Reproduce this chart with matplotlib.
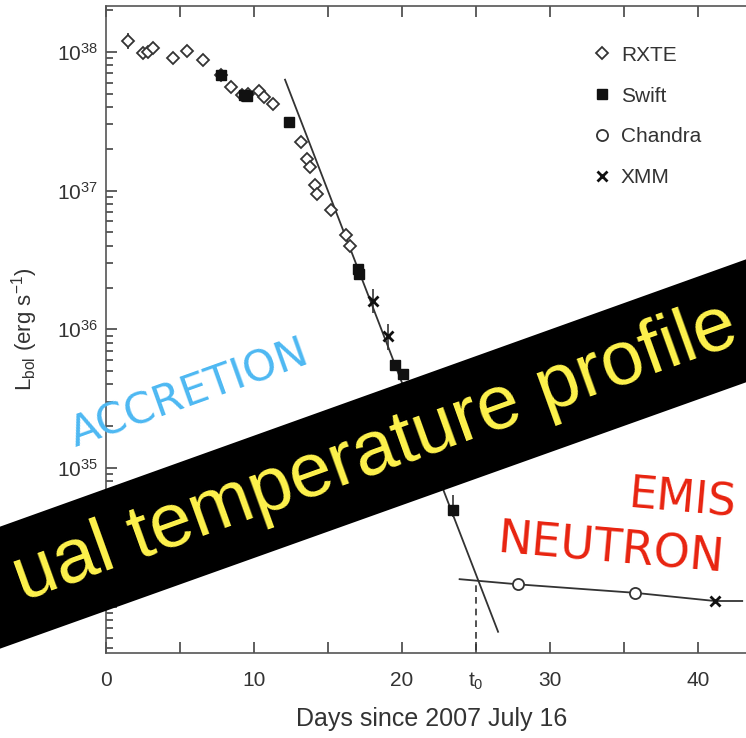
import matplotlib.pyplot as plt
from matplotlib.patches import Polygon
from matplotlib.ticker import FixedLocator, LogLocator, NullFormatter

plt.rcParams['font.family'] = ['Liberation Sans', 'DejaVu Sans']
plt.rcParams['mathtext.fontset'] = 'custom'
plt.rcParams['mathtext.rm'] = 'Liberation Sans'
plt.rcParams['mathtext.it'] = 'Liberation Sans:italic'

# light curve data (days since 2007 July 16, L in erg/s)
rxte_t = [1.47, 2.48, 2.85, 3.15, 4.5, 5.45, 6.53, 7.77, 8.45, 9.2, 9.6, 10.36,
          10.7, 11.26, 13.2, 13.56, 13.78, 14.1, 14.28, 15.18, 16.2, 16.5]
rxte_L = [1.2e38, 9.8e37, 1.0e38, 1.07e38, 9.1e37, 1.02e38, 8.7e37, 6.8e37,
          5.6e37, 4.9e37, 5.0e37, 5.2e37, 4.7e37, 4.2e37, 2.24e37, 1.7e37,
          1.48e37, 1.1e37, 9.5e36, 7.2e36, 4.8e36, 4.0e36]
swift_t = [7.77, 9.35, 9.5, 12.35, 17.05, 17.1, 19.53, 20.09, 23.47]
swift_L = [6.8e37, 4.9e37, 4.8e37, 3.1e37, 2.7e36, 2.5e36, 5.5e35, 4.8e35, 5.0e34]
chandra_t = [27.86, 35.74]
chandra_L = [1.45e34, 1.26e34]
xmm_t = [18.06, 19.08, 41.15]
xmm_L = [1.6e36, 8.9e35, 1.1e34]

# fitted exponential decay and cooling curve
decay_t = [12.1, 26.5]
decay_L = [6.3e37, 6.6e33]
cool_t = [23.9, 27.86, 35.74, 41.15, 43.0]
cool_L = [1.58e34, 1.45e34, 1.26e34, 1.1e34, 1.1e34]
t0 = 25.0
L_t0 = 1.56e34

xticks = [0, 10, 20, 25, 30, 40]
xticklabels = ['0', '10', '20', r'$\mathrm{t}_0$', '30', '40']

W, H = 746, 738
fig = plt.figure(figsize=(W / 100, H / 100), dpi=100)
ax = fig.add_axes([106 / W, 1 - 653 / H, 651 / W, 647 / H])

ink = '#333333'
ax.plot(decay_t, decay_L, color=ink, lw=1.3, zorder=2)
ax.plot(cool_t, cool_L, color=ink, lw=1.3, zorder=2)
ax.plot([t0, t0], [4.0e33, L_t0], color=ink, lw=1.2, ls=(0, (4, 3)), zorder=2)

ax.errorbar([rxte_t[0]], [rxte_L[0]], yerr=[[0.15e38], [0.17e38]], fmt='none',
            ecolor=ink, elinewidth=1.2, capsize=0, zorder=3)
ax.errorbar([xmm_t[0], xmm_t[1]], [xmm_L[0], xmm_L[1]],
            yerr=[[0.3e36, 0.18e36], [0.35e36, 0.2e36]], fmt='none',
            ecolor=ink, elinewidth=1.2, capsize=0, zorder=3)
ax.errorbar([swift_t[-1]], [swift_L[-1]], yerr=[[0.6e34], [1.4e34]], fmt='none',
            ecolor=ink, elinewidth=1.2, capsize=0, zorder=3)

ax.plot(rxte_t, rxte_L, ls='none', marker='D', ms=6.5, mfc='white', mec=ink,
        mew=1.3, label='RXTE', zorder=4)
ax.plot(swift_t, swift_L, ls='none', marker='s', ms=6.5, mfc='#111111', mec='#111111',
        label='Swift', zorder=5)
ax.plot(chandra_t, chandra_L, ls='none', marker='o', ms=8, mfc='white', mec=ink,
        mew=1.3, label='Chandra', zorder=5)
ax.plot(xmm_t, xmm_L, ls='none', marker='x', ms=7, mec='#111111', mew=2,
        label='XMM', zorder=5)

ax.set_yscale('log')
ax.set_xlim(0, 44)
ax.set_ylim(4.64e33, 2.14e38)

ax.xaxis.set_major_locator(FixedLocator(xticks))
ax.set_xticklabels(xticklabels)
ax.xaxis.set_minor_locator(FixedLocator([5, 15, 35]))
ax.yaxis.set_major_locator(LogLocator(base=10, numticks=10))
ax.yaxis.set_minor_locator(LogLocator(base=10, subs=range(2, 10), numticks=20))
ax.yaxis.set_minor_formatter(NullFormatter())

for s in ax.spines.values():
    s.set_color('#555555')
    s.set_linewidth(1.2)
ax.tick_params(which='both', direction='in', top=True, right=True, colors='#444444',
               width=1.2, labelsize=15, labelcolor='#333333')
ax.tick_params(which='major', length=8)
ax.tick_params(which='minor', length=5)
ax.tick_params(axis='x', which='minor', length=8)
ax.tick_params(axis='x', which='major', pad=13)
ax.tick_params(axis='y', which='major', pad=6)

ax.set_xlabel('Days since 2007 July 16', fontsize=18, color='#333333')
ax.xaxis.set_label_coords(0.5, -0.083)
ax.set_ylabel(r'L$_{\rm bol}$ (erg s$^{-1}$)', fontsize=16, color='#333333')
ax.yaxis.set_label_coords(-0.101, 0.5)

ax.legend(loc='upper left', bbox_to_anchor=(573 / W, 1 - 27 / H),
          bbox_transform=fig.transFigure, frameon=False, numpoints=1,
          handlelength=1.0, handletextpad=0.4, labelspacing=1.05, fontsize=15,
          labelcolor='#333333')

# overlay: black banner with yellow title, and coloured annotations
band = Polygon([(-0.02, 1 - 532 / H), (1.02, 1 - 254 / H), (1.02, 1 - 377 / H),
                (-0.02, 1 - 654 / H)], closed=True, transform=fig.transFigure,
               facecolor='black', edgecolor='none', zorder=10)
fig.add_artist(band)

fig.text(375 / W, 1 - 453 / H, 'ual temperature profile', fontsize=55,
         color='#fff34d', rotation=19.8, rotation_mode='anchor',
         ha='center', va='center', zorder=11)
fig.text(75 / W, 1 - 448 / H, 'ACCRETION', family='DejaVu Sans', fontsize=31,
         color='#4db8f2', rotation=19.7, rotation_mode='anchor',
         ha='left', va='baseline', zorder=11)
fig.text(628 / W, 1 - 508 / H, 'EMIS', family='DejaVu Sans', fontsize=32,
         color='#e8230f', rotation=-5, rotation_mode='anchor',
         ha='left', va='baseline', zorder=11)
fig.text(497 / W, 1 - 553 / H, 'NEUTRON', family='DejaVu Sans', fontsize=33,
         color='#e8230f', rotation=-5, rotation_mode='anchor',
         ha='left', va='baseline', zorder=11)

fig.savefig('out.png', dpi=100)
